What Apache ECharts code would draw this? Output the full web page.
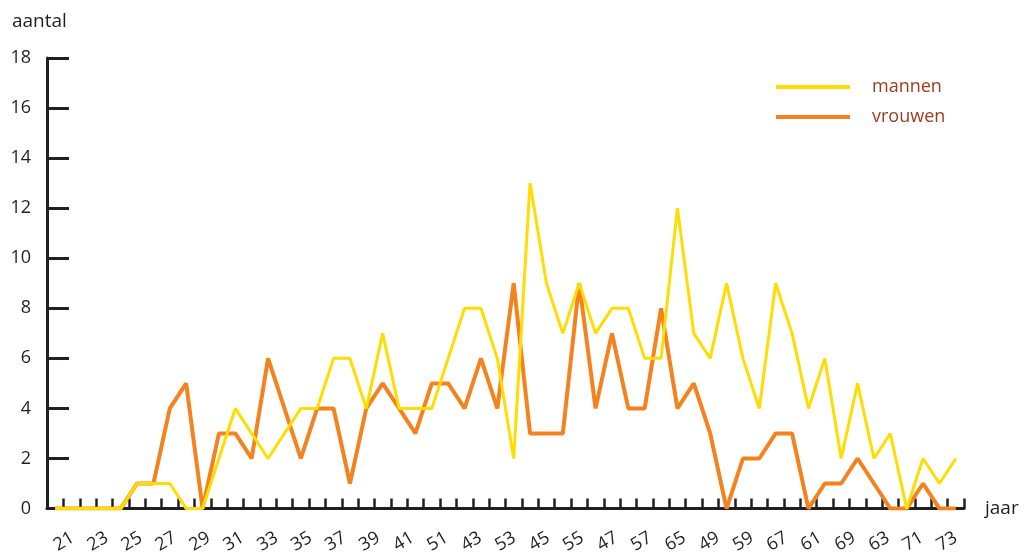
<!DOCTYPE html>
<html>
<head>
<meta charset="utf-8">
<script src="https://cdn.jsdelivr.net/npm/echarts@6/dist/echarts.min.js"></script>
<style>
html,body{margin:0;padding:0;background:#fff;}
#chart{width:1024px;height:556px;}
</style>
</head>
<body>
<div id="chart"></div>
<script>
// 56 data categories (one per tick slot)
const categories = ["18","19","20","21","22","23","24","25","26","27","28","29","30","31","32","33","34","35","36","37","38","39","40","41","42","43","44","45","46","47","48","49","50","51","52","53","54","55","56","57","58","59","60","61","62","63","64","65","66","67","68","69","70","71","72","73"];
// tick labels as printed under the axis
const tickLabels = ["21","23","25","27","29","31","33","35","37","39","41","51","43","53","45","55","47","57","65","49","59","67","61","69","63","71","73"];
const seriesNames = ["mannen","vrouwen"];
const mannen = [0,0,0,0,0,1,1,1,0,0,2,4,3,2,3,4,4,6,6,4,7,4,4,4,6,8,8,6,2,13,9,7,9,7,8,8,6,6,12,7,6,9,6,4,9,7,4,6,2,5,2,3,0,2,1,2];
const vrouwen = [0,0,0,0,0,1,1,4,5,0,3,3,2,6,4,2,4,4,1,4,5,4,3,5,5,4,6,4,9,3,3,3,9,4,7,4,4,8,4,5,3,0,2,2,3,3,0,1,1,2,1,0,0,1,0,0];

const FONT = "Open Sans";
const AXIS = "#231f20";
const chart = echarts.init(document.getElementById('chart'), null, {renderer:'canvas'});
chart.setOption({
  backgroundColor:'#ffffff',
  animation:false,
  textStyle:{fontFamily:FONT},
  grid:{left:47, right:60, top:58, bottom:47, containLabel:false},
  legend:{
    orient:'vertical', left:771, top:73, itemGap:12,
    itemWidth:74, itemHeight:4, icon:'rect',
    data:seriesNames,
    textStyle:{color:'#9e3b1c', fontSize:18, fontFamily:FONT, padding:[0,0,0,17]}
  },
  graphic:[{type:'text', left:12, top:12, style:{text:'aantal', fill:AXIS, font:'19px "Open Sans"'}}],
  xAxis:[{
    type:'category', data:categories, boundaryGap:true,
    name:'jaar', nameLocation:'end', nameGap:21,
    nameTextStyle:{color:AXIS, fontSize:19, fontFamily:FONT, verticalAlign:'middle'},
    axisLine:{lineStyle:{color:AXIS, width:3}},
    axisTick:{show:true, inside:true, length:10, interval:0, lineStyle:{color:AXIS, width:2.5}},
    axisLabel:{show:false}, splitLine:{show:false}
  },{
    type:'category', data:tickLabels, boundaryGap:true, position:'bottom',
    axisLine:{show:false}, axisTick:{show:false},
    axisLabel:{interval:0, rotate:30, align:'center', verticalAlign:'middle', margin:33, color:AXIS, fontSize:18, fontFamily:FONT},
    splitLine:{show:false}
  }],
  yAxis:{
    type:'value', min:0, max:18, interval:2,
    axisLine:{show:true, lineStyle:{color:AXIS, width:3}},
    axisTick:{show:true, inside:true, length:22, lineStyle:{color:AXIS, width:3}},
    axisLabel:{color:AXIS, fontSize:18, fontFamily:FONT, margin:16},
    splitLine:{show:false}
  },
  series:[
    {name:seriesNames[0], type:'line', data:mannen, xAxisIndex:0, symbol:'none', z:3,
     itemStyle:{color:'#ffdd00'}, lineStyle:{color:'#ffdd00', width:3}},
    {name:seriesNames[1], type:'line', data:vrouwen, xAxisIndex:0, symbol:'none', z:2,
     itemStyle:{color:'#f4821f'}, lineStyle:{color:'#f4821f', width:4}}
  ]
});
</script>
</body>
</html>
